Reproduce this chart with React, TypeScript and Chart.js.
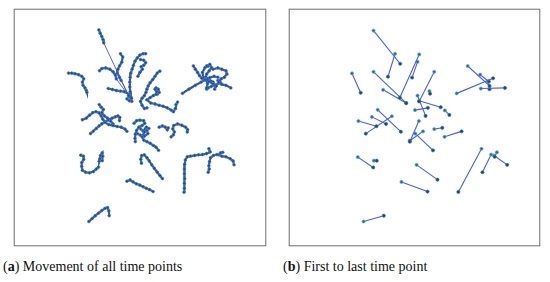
import React, { useEffect, useRef } from "react";
import { Chart, registerables } from "chart.js";
Chart.register(...registerables);

// Coordinate frame of both panels (image-like units, y grows downward)
const X_RANGE = [27, 810];
const Y_RANGE = [12, 750];

// (a) full trajectories: each track is a list of [x, y] positions over time
const trajectories: number[][][] = [
  [[197,212],[207,212],[217,214],[228,217],[238,222],[244,230],[240,240],[242,250],[248,258],[252,266],[254,272]],
  [[291,78],[295,88],[300,98],[304,108],[306,118],[383,282],[392,290],[385,298],[378,292]],
  [[358,152],[365,162],[362,178],[355,190],[350,200],[348,212],[355,225],[360,235],[385,285]],
  [[293,205],[300,198],[312,196],[325,200],[335,208],[342,218],[345,230],[385,285]],
  [[320,260],[333,263],[345,266],[358,268],[370,270],[385,278]],
  [[436,152],[428,152],[418,156],[410,165],[403,175],[398,188],[394,200],[390,212],[388,225],[387,240],[387,255],[388,270],[390,285],[393,300]],
  [[420,170],[430,172],[436,180],[430,188],[422,192],[426,200],[418,210],[412,222]],
  [[480,206],[472,212],[465,222],[458,232],[450,242],[444,252],[440,262],[437,272],[432,282],[425,290],[420,300],[425,312],[432,322],[440,320]],
  [[465,262],[470,270],[468,278],[460,282],[450,288],[440,295],[452,305],[465,308],[478,312],[490,315],[503,320],[515,327],[522,332],[528,322],[530,310],[535,302]],
  [[468,258],[475,262],[478,272],[472,278]],
  [[240,357],[252,352],[262,343],[272,335],[282,332],[292,336],[298,345],[303,355],[310,365],[322,372],[335,375],[348,378],[360,380],[372,386],[378,393]],
  [[265,400],[274,392],[283,384],[292,376],[300,370],[310,363],[320,358],[332,352],[342,348],[350,345],[356,350],[355,360]],
  [[292,310],[298,318],[305,325],[300,335],[308,345],[318,352],[328,362],[335,370]],
  [[400,368],[408,360],[418,358],[430,360],[433,368],[425,375],[415,380],[408,390],[404,402],[403,415],[404,425]],
  [[410,400],[420,405],[432,408],[443,400],[440,390],[432,395],[425,410],[430,420],[440,425],[450,430],[460,437],[468,442],[476,452]],
  [[420,385],[428,392],[438,380],[446,384]],
  [[478,380],[488,376],[497,380],[503,388],[506,382]],
  [[515,410],[522,404],[525,395],[520,385],[523,375],[535,370],[548,374],[560,380],[566,388],[565,395]],
  [[584,190],[590,200],[597,210],[603,220],[610,228],[620,233],[632,238],[645,245],[655,252]],
  [[550,275],[570,262],[590,250],[608,240],[622,232],[635,226],[648,222],[660,225]],
  [[625,190],[635,185],[640,195],[633,205],[625,215],[622,230],[628,245],[625,258]],
  [[645,200],[660,196],[672,200],[685,205],[688,215],[680,225],[670,230],[662,240],[672,247],[685,250],[700,258]],
  [[630,190],[620,195],[612,210],[615,225],[630,230],[645,240],[652,255],[650,262]],
  [[660,235],[668,242],[655,248],[640,253],[630,258],[625,262]],
  [[235,467],[243,470],[244,480],[238,490],[238,502],[240,514],[250,520],[262,522],[274,518],[283,510],[290,504]],
  [[301,484],[303,470],[301,460],[296,468],[294,478],[292,486]],
  [[423,492],[421,480],[424,468],[432,466],[440,475],[447,485],[455,497],[463,508],[472,520],[480,530],[488,540]],
  [[378,548],[388,544],[397,550],[407,556],[418,560],[428,565],[438,570],[448,574],[459,580]],
  [[632,447],[636,457],[625,462],[612,465],[600,466],[588,468],[575,470],[565,472],[559,482],[557,495],[556,510],[556,525],[557,540],[556,555],[556,570],[555,582]],
  [[657,465],[646,468],[637,475],[634,487],[632,500],[633,510],[630,520]],
  [[675,458],[668,460],[662,466],[672,470],[685,472],[698,478],[707,485],[710,497]],
  [[260,673],[270,664],[280,655],[290,647],[300,639],[310,632],[318,630],[322,640],[323,655]],
];

// (b) first and last positions of each track
const firstX = [291,358,433,428,291,321,224,480,428,433,420,465,513,304,244,348,286,432,445,421,480,512,242,292,425,378,627,657,675,666,260,584,550,625,623,648];
const firstY = [80,152,154,177,208,264,213,208,282,298,327,268,328,326,361,346,348,361,393,400,386,410,473,484,497,550,447,465,458,468,673,190,275,260,217,238];
const lastX = [374,336,373,411,393,392,251,433,453,500,460,467,527,376,300,267,330,404,404,476,505,565,290,301,490,459,555,630,668,707,323,652,663,700,650,652];
const lastY = [183,223,288,226,305,305,273,300,345,318,320,276,342,394,377,400,370,425,422,452,382,393,505,484,543,580,581,520,472,497,655,252,228,258,238,262];

const captionA = ["a", " Movement of all time points"];
const captionB = ["b", " First to last time point"];

const framePlugin = {
  id: "frame",
  afterDraw(chart: any) {
    const { ctx, chartArea: a } = chart;
    ctx.save();
    ctx.strokeStyle = "#6e6e6e";
    ctx.lineWidth = 1;
    ctx.strokeRect(a.left + 0.5, a.top + 0.5, a.right - a.left - 1, a.bottom - a.top - 1);
    ctx.restore();
  },
};

function baseOptions(): any {
  return {
    responsive: false,
    animation: false,
    devicePixelRatio: 1,
    layout: { padding: 0 },
    plugins: { legend: { display: false }, tooltip: { enabled: false } },
    scales: {
      x: { type: "linear", min: X_RANGE[0], max: X_RANGE[1], display: false },
      y: { type: "linear", min: Y_RANGE[0], max: Y_RANGE[1], reverse: true, display: false },
    },
  };
}

// long jumps are drawn as thin lines, short steps as thick chains
const isJump = (c: any) => {
  const dx = c.p1.x - c.p0.x;
  const dy = c.p1.y - c.p0.y;
  return Math.sqrt(dx * dx + dy * dy) > 12;
};

function Panel({ kind, left, width }: { kind: "a" | "b"; left: number; width: number }) {
  const ref = useRef<HTMLCanvasElement>(null);
  useEffect(() => {
    let datasets: any[];
    if (kind === "a") {
      datasets = trajectories.map((t) => ({
        data: t.map(([x, y]) => ({ x, y })),
        showLine: true,
        borderColor: "#2d4fb8",
        borderWidth: 2,
        segment: {
          borderWidth: (c: any) => (isJump(c) ? 0.9 : 2.2),
          borderColor: (c: any) => (isJump(c) ? "#3f52ee" : "#2b4fb0"),
        },
        pointRadius: 1.4,
        pointBackgroundColor: "#1f4588",
        pointBorderColor: "#4a86c4",
        pointBorderWidth: 0.7,
      }));
    } else {
      datasets = firstX.map((_, i) => ({
        data: [
          { x: firstX[i], y: firstY[i] },
          { x: lastX[i], y: lastY[i] },
        ],
        showLine: true,
        borderColor: "#4a5cf2",
        borderWidth: 1.1,
        pointRadius: 1.6,
        pointBackgroundColor: ["#2a6a98", "#1b4478"],
        pointBorderColor: ["#5ab0d0", "#3a78a8"],
        pointBorderWidth: 0.7,
      }));
    }
    const chart = new Chart(ref.current as HTMLCanvasElement, {
      type: "scatter",
      data: { datasets },
      options: baseOptions(),
      plugins: [framePlugin],
    });
    return () => chart.destroy();
  }, [kind]);
  return (
    <canvas
      ref={ref}
      width={width}
      height={247}
      style={{ position: "absolute", left, top: 4, width, height: 247 }}
    />
  );
}

export default function App() {
  const capStyle: React.CSSProperties = {
    position: "absolute",
    top: 259,
    fontFamily: "'Liberation Serif', 'DejaVu Serif', serif",
    fontSize: 14,
    color: "#111",
    whiteSpace: "nowrap",
  };
  return (
    <div style={{ position: "absolute", left: 0, top: 0, width: 550, height: 282, background: "#fff" }}>
      <Panel kind="a" left={9} width={262} />
      <Panel kind="b" left={284} width={261} />
      <div style={{ ...capStyle, left: 3 }}>
        (<b>{captionA[0]}</b>){captionA[1]}
      </div>
      <div style={{ ...capStyle, left: 283 }}>
        (<b>{captionB[0]}</b>){captionB[1]}
      </div>
    </div>
  );
}
